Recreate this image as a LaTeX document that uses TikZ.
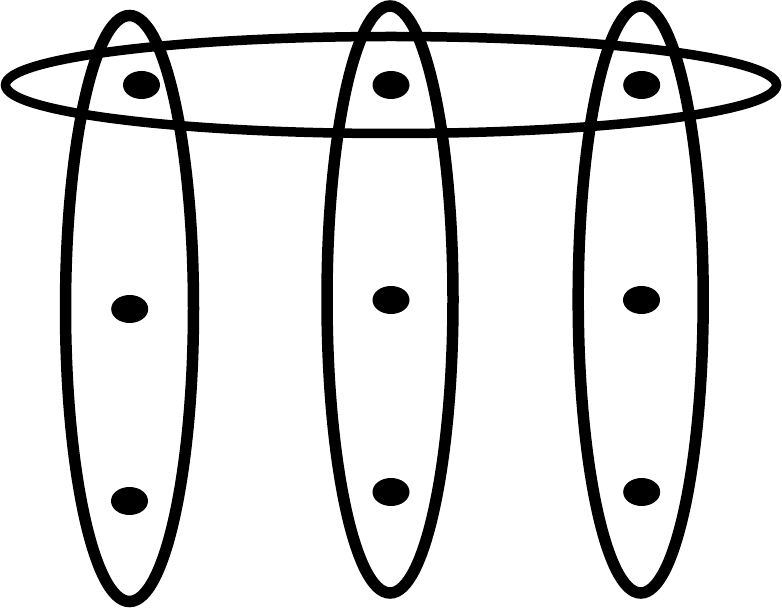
\documentclass[tikz,border=0pt]{standalone}
\begin{document}
\begin{tikzpicture}[x=1pt,y=-1pt,
  vring/.style={draw=black,line width=11.5pt},
  hring/.style={draw=black,line width=9.5pt},
  dot/.style={fill=black}]
\useasboundingbox (0,0) rectangle (782,609);
% vertical ellipses
\draw[vring] (129.5,308.5) ellipse [x radius=64, y radius=293];
\draw[vring] (390,299.5) ellipse [x radius=63, y radius=293.5];
\draw[vring] (640.7,299.5) ellipse [x radius=62.5, y radius=293.5];
% horizontal ellipse
\draw[hring] (391,85) ellipse [x radius=385.5, y radius=48.5];
% dots
\foreach \p in {(141.5,85),(391,85),(641.7,85),
                (129.7,309),(391,300),(641.5,300),
                (129.5,501),(391,492),(641.7,492)}
  \fill[dot] \p ellipse [x radius=18.5, y radius=14];
\end{tikzpicture}
\end{document}
